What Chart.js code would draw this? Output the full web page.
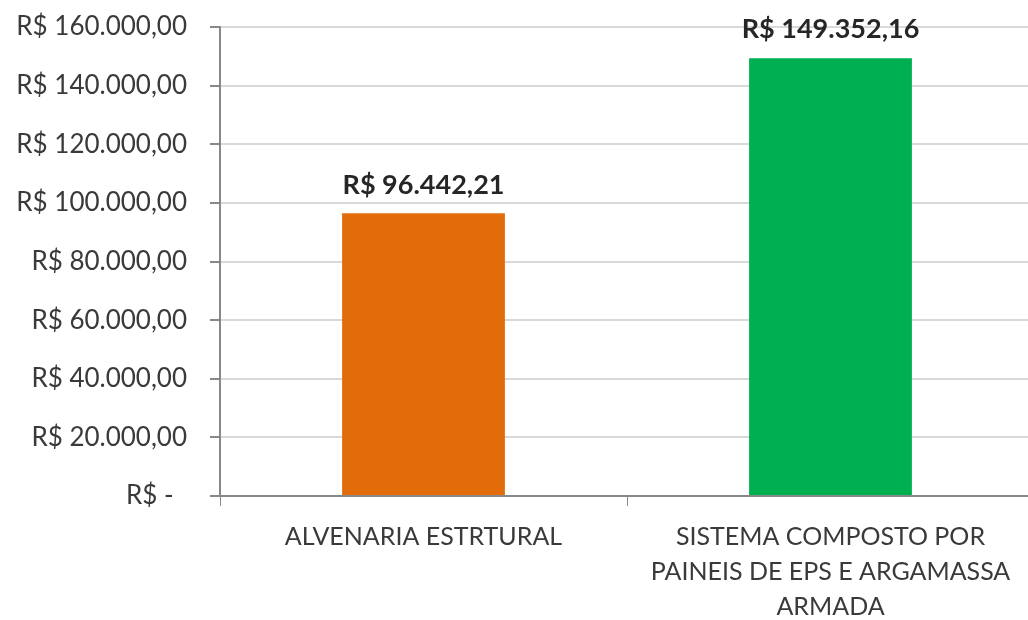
<!DOCTYPE html>
<html>
<head>
<meta charset="utf-8">
<script src="https://cdn.jsdelivr.net/npm/chart.js@4"></script>
<style>
  html, body { margin: 0; padding: 0; background: #fff; overflow: hidden; }
  #wrap { width: 1034px; height: 620px; }
</style>
</head>
<body>
<div id="wrap"><canvas id="costChart"></canvas></div>
<script>
const categories = [
  "ALVENARIA ESTRTURAL",
  ["SISTEMA COMPOSTO POR", "PAINEIS DE EPS E ARGAMASSA", "ARMADA"]
];
const costValues = [96442.21, 149352.16];
const barColors = ["#E36C0A", "#00B050"];
const yTicks = [0, 20000, 40000, 60000, 80000, 100000, 120000, 140000, 160000];

const FONT = "Lato, 'Open Sans', sans-serif";

function formatBRL(v) {
  if (v === 0) return "R$ -  ";
  const parts = v.toFixed(2).split(".");
  const intPart = parts[0].replace(/\B(?=(\d{3})+(?!\d))/g, ".");
  return `R$ ${intPart},${parts[1]}`;
}

// value labels above bars (no datalabels plugin available)
const valueLabels = {
  id: "valueLabels",
  afterDatasetsDraw(chart) {
    const { ctx } = chart;
    const meta = chart.getDatasetMeta(0);
    ctx.save();
    ctx.font = `bold 27px ${FONT}`;
    ctx.fillStyle = "#262626";
    ctx.textAlign = "center";
    ctx.textBaseline = "bottom";
    meta.data.forEach((bar, i) => {
      ctx.fillText(formatBRL(costValues[i]), bar.x, bar.y - 15);
    });
    ctx.restore();
  }
};

const ctx = document.getElementById("costChart").getContext("2d");
new Chart(ctx, {
  type: "bar",
  data: {
    labels: categories,
    datasets: [{
      data: costValues,
      backgroundColor: barColors,
      barPercentage: 0.4,
      categoryPercentage: 1
    }]
  },
  options: {
    responsive: true,
    maintainAspectRatio: false,
    animation: false,
    layout: { padding: { top: 27, right: 0, left: 0, bottom: 0 } },
    plugins: {
      legend: { display: false },
      tooltip: { enabled: false }
    },
    scales: {
      x: {
        afterFit(scale) { scale.height = 124; },
        grid: {
          drawOnChartArea: false,
          drawTicks: true,
          tickLength: 10,
          tickColor: "#888888",
          offset: true
        },
        border: { color: "#888888", width: 2 },
        ticks: {
          color: "#3a3a3a",
          font: { family: FONT, size: 25, lineHeight: 1.4 },
          padding: 13,
          maxRotation: 0,
          autoSkip: false
        }
      },
      y: {
        min: 0,
        max: 160000,
        afterFit(scale) {
          scale.width = 220;
          scale.paddingTop = 0;
          scale.paddingBottom = 0;
        },
        afterBuildTicks(scale) { scale.ticks = yTicks.map((v) => ({ value: v })); },
        grid: {
          color: "#d9d9d9",
          lineWidth: 2,
          tickLength: 10,
          tickColor: "#888888"
        },
        border: { color: "#888888", width: 2 },
        ticks: {
          color: "#3a3a3a",
          font: { family: FONT, size: 26 },
          padding: 23,
          callback(value) { return formatBRL(value); }
        }
      }
    }
  },
  plugins: [valueLabels]
});
</script>
</body>
</html>
